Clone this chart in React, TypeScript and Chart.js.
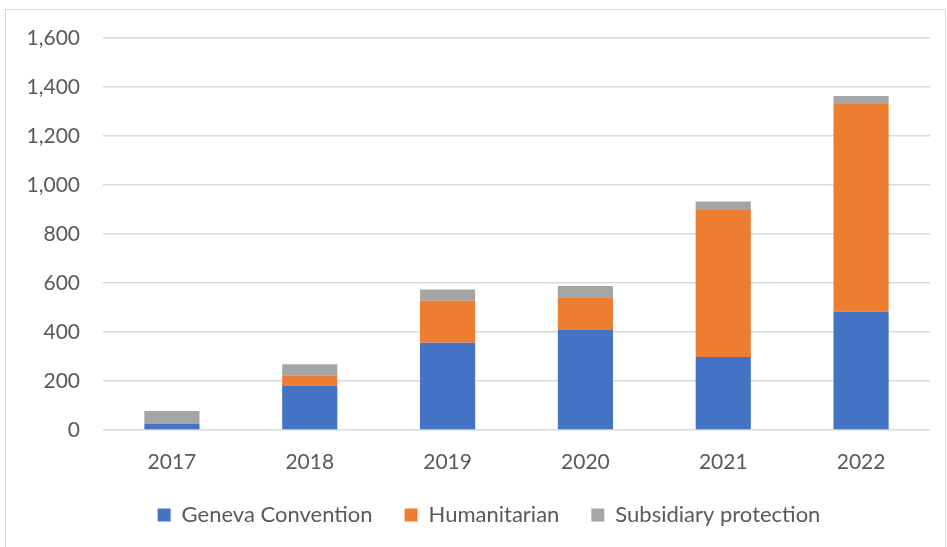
import React, { useEffect, useRef } from "react";
import { Chart, registerables } from "chart.js";

Chart.register(...registerables);

const years = ["2017", "2018", "2019", "2020", "2021", "2022"];
const geneva = [26, 182, 356, 408, 298, 483];
const humanitarian = [0, 40, 172, 134, 600, 848];
const subsidiary = [52, 46, 45, 46, 35, 32];

const FONT = "Lato, 'Open Sans', sans-serif";

const legendShift = {
  id: "legendShift",
  afterLayout(chart: any) {
    const lg = chart.legend;
    if (lg) {
      lg.left += 24;
      lg.right += 24;
    }
  },
};

export default function App() {
  const ref = useRef<HTMLCanvasElement | null>(null);

  useEffect(() => {
    document.body.style.margin = "0";
    const ctx = ref.current!;
    const chart = new Chart(ctx, {
      type: "bar",
      data: {
        labels: years,
        datasets: [
          { label: "Geneva Convention", data: geneva, backgroundColor: "#4472C4" },
          { label: "Humanitarian", data: humanitarian, backgroundColor: "#ED7D31" },
          { label: "Subsidiary protection", data: subsidiary, backgroundColor: "#A5A5A5" },
        ],
      },
      options: {
        animation: false,
        responsive: false,
        maintainAspectRatio: false,
        datasets: { bar: { barPercentage: 0.4, categoryPercentage: 1 } },
        layout: { padding: { top: 38, right: 17, bottom: 11, left: 0 } },
        plugins: {
          tooltip: { enabled: false },
          legend: {
            position: "bottom",
            labels: {
              boxWidth: 13,
              boxHeight: 13,
              padding: 32,
              color: "#595959",
              font: { family: FONT, size: 22 },
            },
          },
        },
        scales: {
          x: {
            stacked: true,
            grid: { display: false, drawTicks: false },
            border: { display: false },
            ticks: { color: "#595959", font: { family: FONT, size: 21 }, padding: 20 },
            afterFit: (s: any) => { s.height = 42; },
          },
          y: {
            stacked: true,
            min: 0,
            max: 1600,
            grid: { color: "#D9D9D9", lineWidth: 1.5, drawTicks: false },
            border: { display: false },
            ticks: {
              stepSize: 200,
              color: "#595959",
              font: { family: FONT, size: 21 },
              padding: 23,
              callback: (v: any) => Number(v).toLocaleString("en-US"),
            },
            afterFit: (s: any) => { s.width = 103; },
          },
        },
      },
      plugins: [legendShift],
    } as any);
    return () => chart.destroy();
  }, []);

  return (
    <div style={{ position: "relative", width: 947, height: 547, background: "#fff" }}>
      <div
        style={{
          position: "absolute",
          left: 5,
          top: 9,
          width: 941,
          height: 540,
          border: "1px solid #D9D9D9",
          boxSizing: "border-box",
        }}
      />
      <canvas
        ref={ref}
        width={947}
        height={547}
        style={{ position: "absolute", left: 0, top: 0, width: 947, height: 547 }}
      />
    </div>
  );
}
